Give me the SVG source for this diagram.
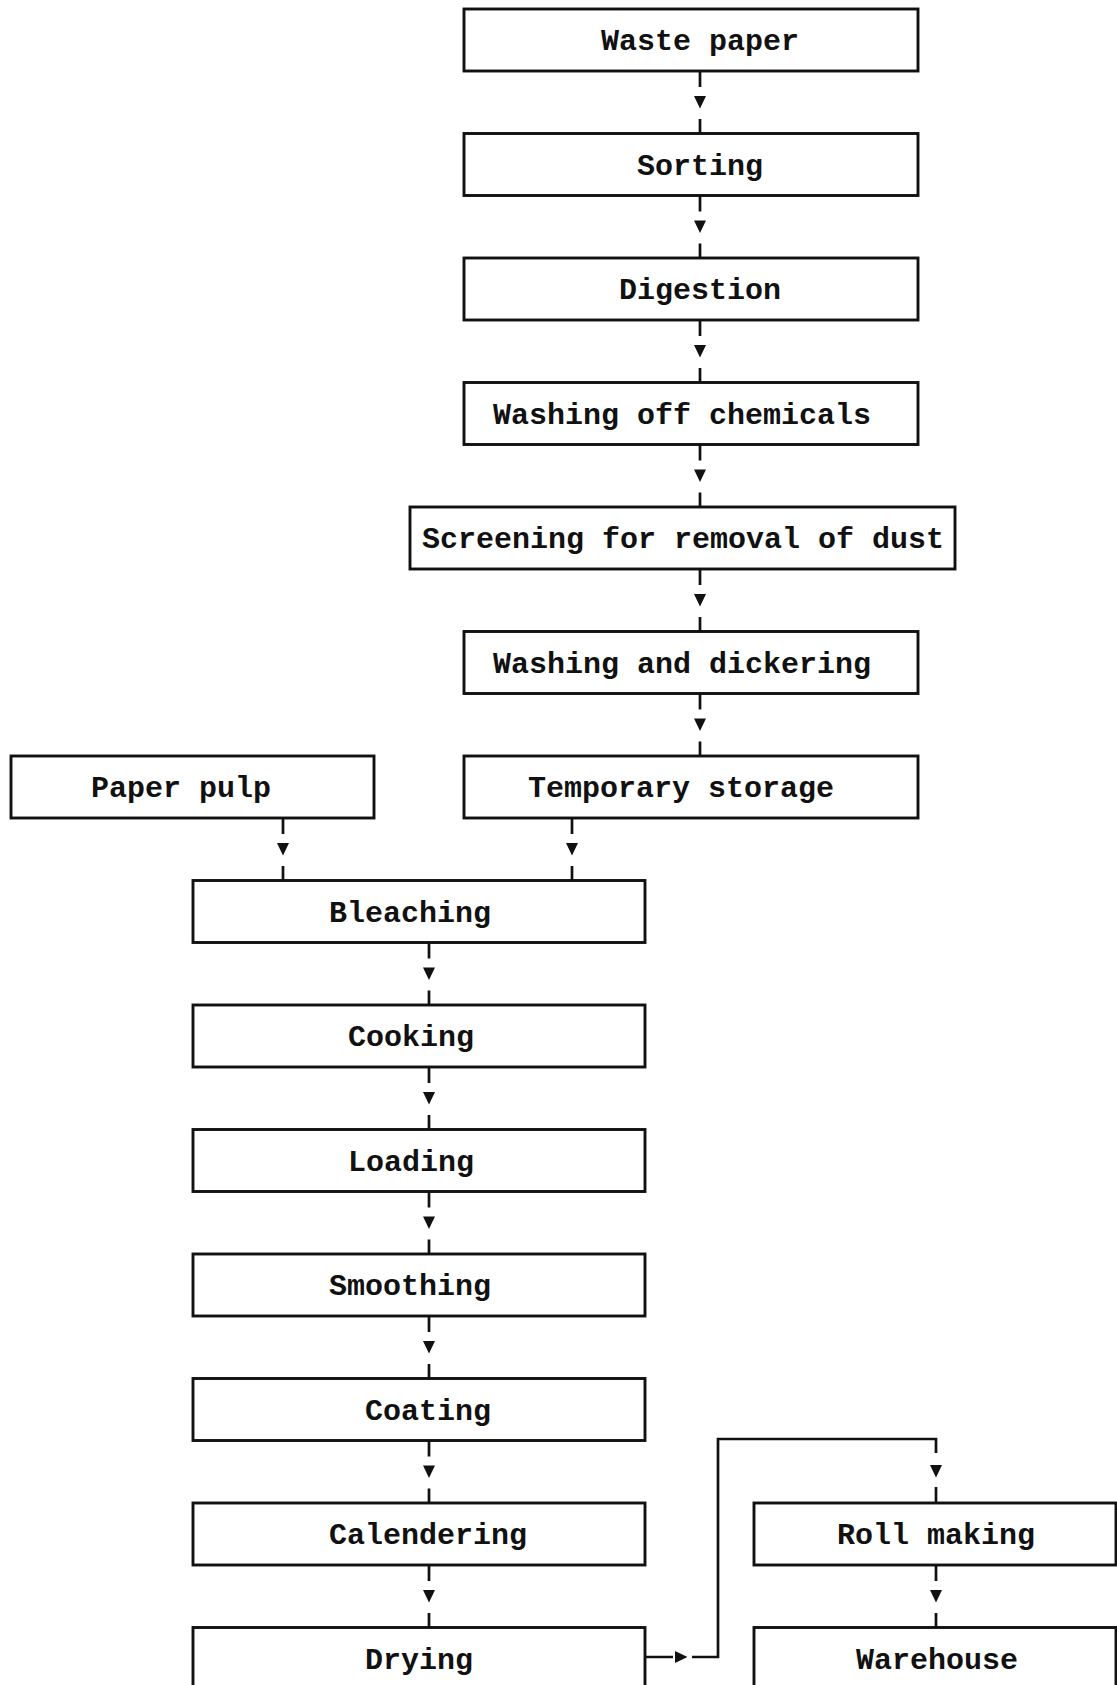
<svg xmlns="http://www.w3.org/2000/svg" xmlns:xlink="http://www.w3.org/1999/xlink" width="1117" height="1685" viewBox="0 0 1117 1685">
<style>
.box{fill:#fff;stroke:#111;stroke-width:2.9}
.lbl{font-family:"Liberation Mono","DejaVu Sans Mono",monospace;font-weight:bold;font-size:30px;fill:#111;text-anchor:middle}
.ln{fill:none;stroke:#111;stroke-width:2.7}
.ah{fill:#111}
</style>
<defs>
<path id="ad" d="M-6,0 L6,0 L0,12.5 Z"/>
<path id="ar" d="M0,-6 L0,6 L12.5,0 Z"/>
</defs>
<rect width="1117" height="1685" fill="#fff"/>
<g id="connectors">
<path class="ln" d="M700,71 V87 M700,119 V133.5 M700,195.5 V211.5 M700,243.5 V258 M700,320 V336 M700,368 V382.5 M700,444.5 V460.5 M700,492.5 V507 M700,569 V585 M700,617 V631.5 M700,693.5 V709.5 M700,741.5 V756"/>
<path class="ln" d="M283,818 V834 M283,866 V880.5 M572,818 V834 M572,866 V880.5"/>
<path class="ln" d="M429,942.5 V958.5 M429,990.5 V1005 M429,1067 V1083 M429,1115 V1129.5 M429,1191.5 V1207.5 M429,1239.5 V1254 M429,1316 V1332 M429,1364 V1378.5 M429,1440.5 V1456.5 M429,1488.5 V1503 M429,1565 V1581 M429,1613 V1627.5"/>
<path class="ln" d="M645,1657 H673 M692,1657 H718 V1439 H936 V1453 M936,1487 V1503 M936,1565 V1581 M936,1613 V1627.5"/>
<g class="ah">
<use xlink:href="#ad" x="700" y="96"/>
<use xlink:href="#ad" x="700" y="220.5"/>
<use xlink:href="#ad" x="700" y="345"/>
<use xlink:href="#ad" x="700" y="469.5"/>
<use xlink:href="#ad" x="700" y="594"/>
<use xlink:href="#ad" x="700" y="718.5"/>
<use xlink:href="#ad" x="283" y="843"/>
<use xlink:href="#ad" x="572" y="843"/>
<use xlink:href="#ad" x="429" y="967.5"/>
<use xlink:href="#ad" x="429" y="1092"/>
<use xlink:href="#ad" x="429" y="1216.5"/>
<use xlink:href="#ad" x="429" y="1341"/>
<use xlink:href="#ad" x="429" y="1465.5"/>
<use xlink:href="#ad" x="429" y="1590"/>
<use xlink:href="#ad" x="936" y="1465"/>
<use xlink:href="#ad" x="936" y="1590"/>
<use xlink:href="#ar" x="675" y="1657"/>
</g>
</g>
<g id="waste-paper"><rect class="box" x="464" y="9" width="454" height="62"/><text class="lbl" x="700" y="50">Waste paper</text></g>
<g id="sorting"><rect class="box" x="464" y="133.5" width="454" height="62"/><text class="lbl" x="700" y="174.5">Sorting</text></g>
<g id="digestion"><rect class="box" x="464" y="258" width="454" height="62"/><text class="lbl" x="700" y="299">Digestion</text></g>
<g id="washing-off"><rect class="box" x="464" y="382.5" width="454" height="62"/><text class="lbl" x="682" y="423.5">Washing off chemicals</text></g>
<g id="screening"><rect class="box" x="410" y="507" width="545" height="62"/><text class="lbl" x="683" y="548">Screening for removal of dust</text></g>
<g id="washing-dickering"><rect class="box" x="464" y="631.5" width="454" height="62"/><text class="lbl" x="682" y="672.5">Washing and dickering</text></g>
<g id="temporary-storage"><rect class="box" x="464" y="756" width="454" height="62"/><text class="lbl" x="681" y="797">Temporary storage</text></g>
<g id="paper-pulp"><rect class="box" x="11" y="756" width="363" height="62"/><text class="lbl" x="181" y="797">Paper pulp</text></g>
<g id="bleaching"><rect class="box" x="193" y="880.5" width="452" height="62"/><text class="lbl" x="410" y="921.5">Bleaching</text></g>
<g id="cooking"><rect class="box" x="193" y="1005" width="452" height="62"/><text class="lbl" x="411" y="1046">Cooking</text></g>
<g id="loading"><rect class="box" x="193" y="1129.5" width="452" height="62"/><text class="lbl" x="411" y="1170.5">Loading</text></g>
<g id="smoothing"><rect class="box" x="193" y="1254" width="452" height="62"/><text class="lbl" x="410" y="1295">Smoothing</text></g>
<g id="coating"><rect class="box" x="193" y="1378.5" width="452" height="62"/><text class="lbl" x="428" y="1419.5">Coating</text></g>
<g id="calendering"><rect class="box" x="193" y="1503" width="452" height="62"/><text class="lbl" x="428" y="1544">Calendering</text></g>
<g id="drying"><rect class="box" x="193" y="1627.5" width="452" height="80"/><text class="lbl" x="419" y="1668.5">Drying</text></g>
<g id="roll-making"><rect class="box" x="754" y="1503" width="362" height="62"/><text class="lbl" x="936" y="1544">Roll making</text></g>
<g id="warehouse"><rect class="box" x="754" y="1627.5" width="362" height="80"/><text class="lbl" x="937" y="1668.5">Warehouse</text></g>
</svg>
